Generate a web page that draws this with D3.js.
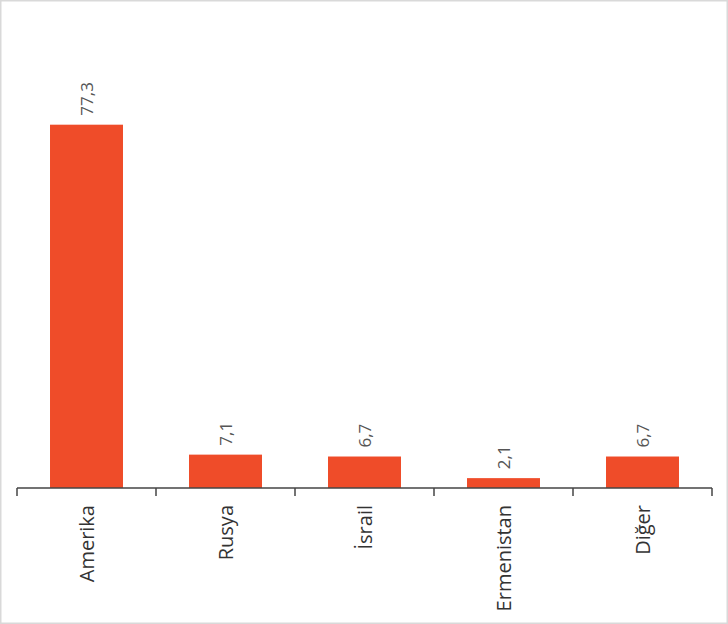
<!DOCTYPE html>
<html><head><meta charset="utf-8">
<script src="https://cdn.jsdelivr.net/npm/d3@7"></script>
<style>
html,body{margin:0;padding:0;background:#fff;}
svg{display:block;}
</style></head>
<body>
<svg id="chart" width="728" height="624"></svg>
<script>
const categories = ["Amerika", "Rusya", "İsrail", "Ermenistan", "Diğer"];
const values = [77.3, 7.1, 6.7, 2.1, 6.7];
const valueLabels = ["77,3", "7,1", "6,7", "2,1", "6,7"];

const W = 728, H = 624;
const svg = d3.select("#chart");
svg.append("rect").attr("x",0.5).attr("y",0.5).attr("width",W-1).attr("height",H-1)
  .attr("fill","#fff").attr("stroke","#d9d9d9").attr("stroke-width",2);

const margin = {left: 17, right: 16, top: 112, bottom: 136};
const x = d3.scaleBand().domain(categories).range([margin.left, W - margin.right])
  .paddingInner(0.475).paddingOuter(0.2375);
const y = d3.scaleLinear().domain([0, 80]).range([H - margin.bottom, margin.top]);

const font = "'Open Sans', 'Noto Sans', sans-serif";

svg.selectAll("rect.bar").data(values).join("rect").attr("class","bar")
  .attr("x",(d,i)=>x(categories[i])).attr("width",x.bandwidth())
  .attr("y",d=>y(d)).attr("height",d=>y(0)-y(d))
  .attr("fill","#EF4C29");

// axis
const axisG = svg.append("g").attr("transform",`translate(0,${y(0)})`);
axisG.append("line").attr("x1",margin.left).attr("x2",W-margin.right)
  .attr("stroke","#444").attr("stroke-width",1.5);
const bounds = categories.map(c => x(c) + x.bandwidth()/2 - x.step()/2);
bounds.push(x(categories[categories.length-1]) + x.bandwidth()/2 + x.step()/2);
axisG.selectAll("line.tick").data(bounds).join("line").attr("class","tick")
  .attr("x1",d=>d).attr("x2",d=>d).attr("y1",0).attr("y2",8)
  .attr("stroke","#444").attr("stroke-width",1.5);

// category labels
svg.selectAll("text.cat").data(categories).join("text").attr("class","cat")
  .attr("transform",d=>`translate(${x(d)+x.bandwidth()/2+7},${y(0)+17}) rotate(-90)`)
  .attr("text-anchor","end")
  .attr("font-family",font).attr("font-size",20).attr("fill","#333")
  .text(d=>d);

// value labels
svg.selectAll("text.val").data(values).join("text").attr("class","val")
  .attr("transform",(d,i)=>`translate(${x(categories[i])+x.bandwidth()/2+6},${y(d)-9}) rotate(-90)`)
  .attr("text-anchor","start")
  .attr("font-family",font).attr("font-size",17).attr("fill","#555")
  .text((d,i)=>valueLabels[i]);
</script>
</body></html>
